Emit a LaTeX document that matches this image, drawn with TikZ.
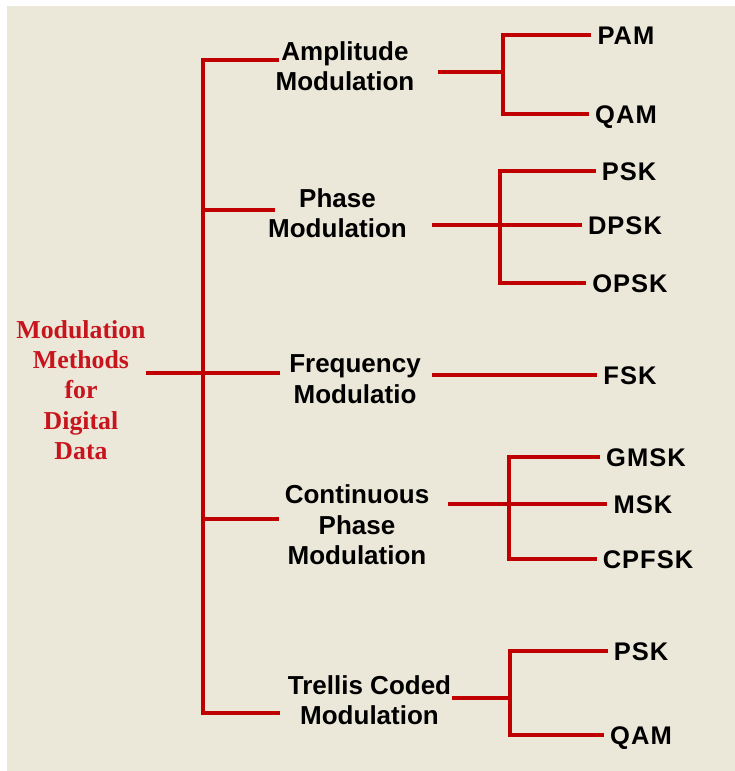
\documentclass[tikz,border=0pt]{standalone}
\usepackage{fontspec}
\setmainfont{Liberation Sans}
\newfontfamily\rootserif{Liberation Serif}
\usepackage{xcolor}
\definecolor{linkred}{HTML}{C00000}
\definecolor{rootred}{HTML}{C8141C}
\definecolor{paper}{HTML}{EBE7D9}

\begin{document}
\begin{tikzpicture}[x=1pt, y=-1pt]
        % ================= 样式定义 =================
        \tikzset{
            % 连线:粗红线
            link/.style={line width=4pt, draw=linkred},
            % 根节点:红色衬线体
            rootnode/.style={font=\rootserif\bfseries\fontsize{25.8}{30.3}\selectfont, text=rootred, align=center, inner sep=0pt},
            % 调制方式
            method/.style={font=\bfseries\fontsize{26}{30.5}\selectfont, align=center, inner sep=0pt},
            % 叶子:具体调制
            leaf/.style={font=\bfseries\fontsize{25.5}{30}\selectfont\addfontfeatures{LetterSpace=4}, inner sep=6pt, text height=18pt, text depth=0pt}
        }

        % ================= 背景 =================
        \fill[white] (0,0) rectangle (735,771);
        \fill[paper] (7,6) rectangle (735,771);
        \useasboundingbox (0,0) rectangle (735,771);

        % ================= 1. 根与主干 (Root & Trunk) =================
        \node[rootnode] (root) at (81,390) {Modulation\\Methods\\for\\Digital\\Data};

        \coordinate (t1) at (203,60);
        \coordinate (t2) at (203,210);
        \coordinate (t4) at (203,519);
        \coordinate (t5) at (203,713);

        % 分支末端
        \coordinate (e1) at (279,60);
        \coordinate (e2) at (275,210);
        \coordinate (e3) at (280,373);
        \coordinate (e4) at (279,519);
        \coordinate (e5) at (280,713);

        \draw[link] (e1) -- (t1) -- (t5) -- (e5);
        \draw[link] (t2) -- (e2);
        \draw[link] (t4) -- (e4);
        \draw[link] (root.east |- e3) -- (e3);

        % ================= 2. 调制方式 (Methods) =================
        \node[method] (amp)  at (345,66)    {Amplitude\\Modulation};
        \node[method] (pha)  at (337.5,213) {Phase\\Modulation};
        \node[method] (fre)  at (355,379)   {Frequency\\Modulatio};
        \node[method] (cpm)  at (357,525)   {Continuous\\Phase\\Modulation};
        \node[method] (tcm)  at (369.5,700) {Trellis Coded\\Modulation};

        % 右侧连线起点
        \coordinate (s1) at (438,72);
        \coordinate (s2) at (432,225);
        \coordinate (s3) at (432,375);
        \coordinate (s4) at (448,504);
        \coordinate (s5) at (452,698);

        % 分叉点
        \coordinate (j1) at (503,72);
        \coordinate (j2) at (500,225);
        \coordinate (j4) at (509,504);
        \coordinate (j5) at (510,698);

        % ================= 3. 叶子 (Leaves) =================
        \node[leaf] (pam)   at (626,35)  {PAM};
        \node[leaf] (qam)   at (626,114) {QAM};

        \node[leaf] (psk)   at (629,171) {PSK};
        \node[leaf] (dpsk)  at (625,225) {DPSK};
        \node[leaf] (opsk)  at (630,283) {OPSK};

        \node[leaf] (fsk)   at (630,375) {FSK};

        \node[leaf] (gmsk)  at (646,457) {GMSK};
        \node[leaf] (msk)   at (643,504) {MSK};
        \node[leaf] (cpfsk) at (648,559) {CPFSK};

        \node[leaf] (tpsk)  at (641,651) {PSK};
        \node[leaf] (tqam)  at (641,735) {QAM};

        % ================= 4. 连线 (Links) =================
        \draw[link] (s1) -- (j1);
        \draw[link] (pam.west) -| (j1) |- (qam.west);

        \draw[link] (s2) -- (dpsk.west);
        \draw[link] (psk.west) -| (j2) |- (opsk.west);

        \draw[link] (s3) -- (fsk.west);

        \draw[link] (s4) -- (msk.west);
        \draw[link] (gmsk.west) -| (j4) |- (cpfsk.west);

        \draw[link] (s5) -- (j5);
        \draw[link] (tpsk.west) -| (j5) |- (tqam.west);

\end{tikzpicture}
\end{document}
